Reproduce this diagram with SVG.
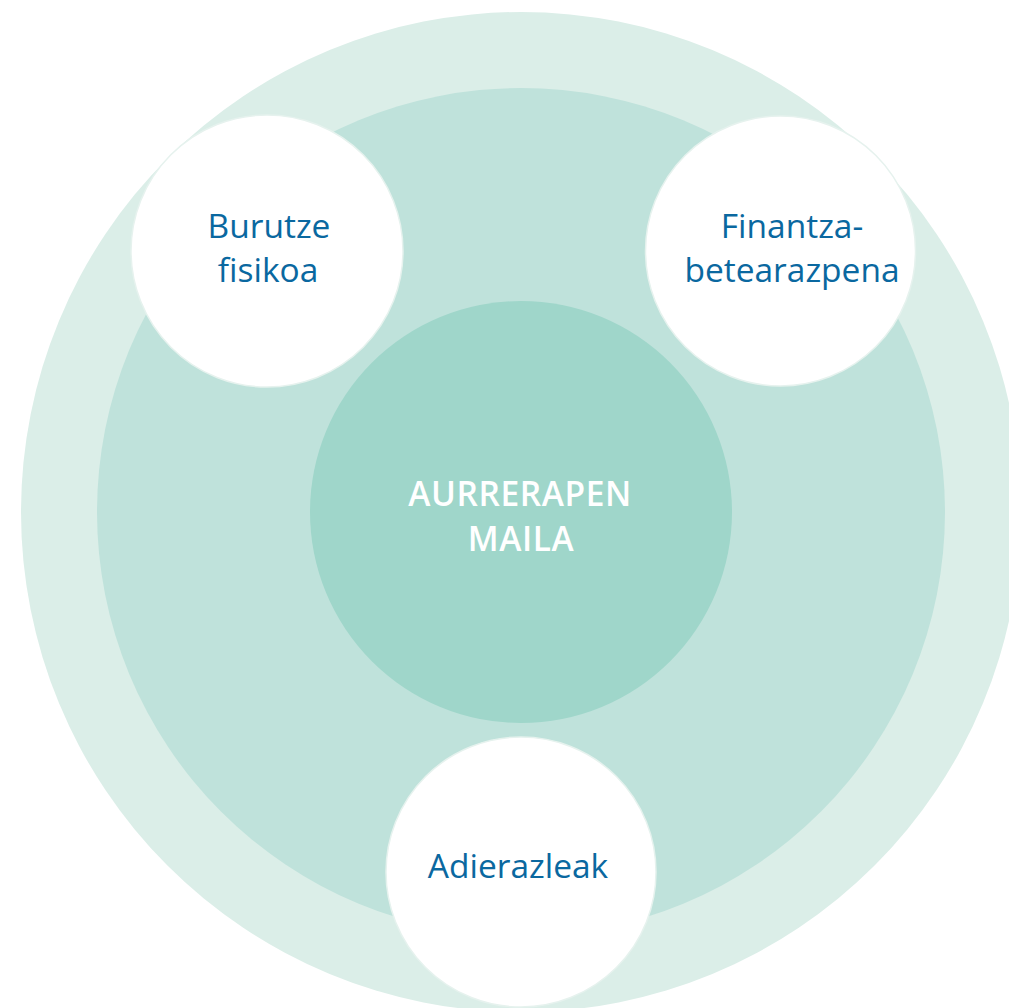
<svg xmlns="http://www.w3.org/2000/svg" width="1009" height="1008" viewBox="0 0 1009 1008">
<style>
.node{fill:#ffffff;stroke:#e6f2ee;stroke-width:1.5}
.lbl{font-family:"Open Sans","Noto Sans","Liberation Sans",sans-serif;font-size:33.5px;fill:#0a68a0;text-anchor:middle}
.ctr{font-family:"Open Sans","Noto Sans","Liberation Sans",sans-serif;font-size:33.5px;font-weight:600;fill:#ffffff;text-anchor:middle;letter-spacing:0.6px}
</style>
<rect width="1009" height="1008" fill="#ffffff"/>
<g id="outer-ring"><circle cx="521" cy="512" r="500" fill="#dbeee8"/></g>
<g id="middle-ring"><circle cx="521" cy="512" r="424" fill="#bfe2db"/></g>
<g id="center">
<circle cx="521" cy="512" r="211" fill="#9fd6ca"/>
<text class="ctr" x="520" y="506">AURRERAPEN</text>
<text class="ctr" x="521" y="551">MAILA</text>
</g>
<g id="connectors"></g>
<g id="burutze">
<circle class="node" cx="267" cy="251" r="136"/>
<text class="lbl" x="269" y="238">Burutze</text>
<text class="lbl" x="268" y="282">fisikoa</text>
</g>
<g id="finantza">
<circle class="node" cx="780.5" cy="251" r="135"/>
<text class="lbl" x="792" y="238">Finantza-</text>
<text class="lbl" x="792" y="282">betearazpena</text>
</g>
<g id="adierazleak">
<circle class="node" cx="521" cy="872" r="135"/>
<text class="lbl" x="518" y="878">Adierazleak</text>
</g>
</svg>
